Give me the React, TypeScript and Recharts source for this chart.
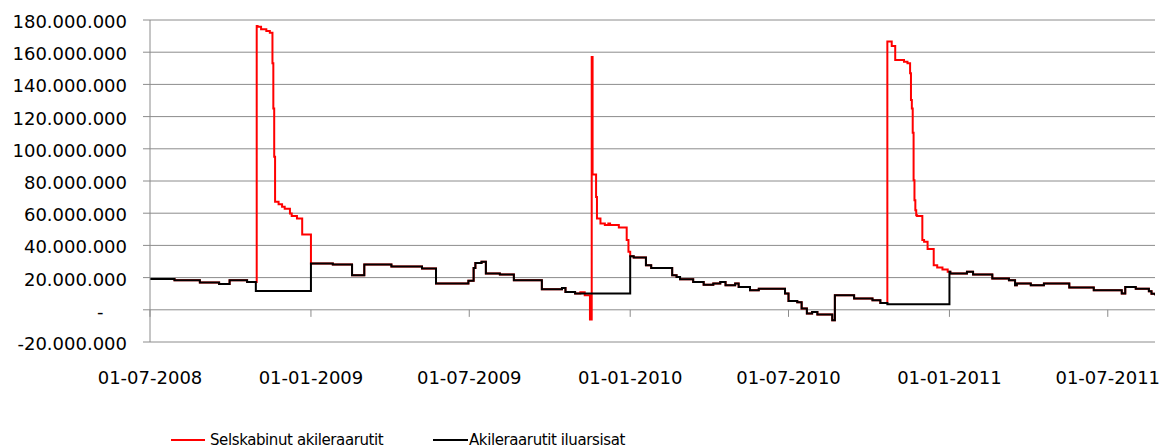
import React from 'react';
import { LineChart, Line, XAxis, YAxis, CartesianGrid, ReferenceLine, Legend } from 'recharts';

// ---------- data ----------
const seriesNames = ['Selskabinut akileraarutit', 'Akileraarutit iluarsisat'];
const seriesColors = ['#ff0000', '#000000'];

const xStart = '2008-07-01';
const xEnd = '2011-08-24';
const xTickDates = ['2008-07-01', '2009-01-01', '2009-07-01', '2010-01-01', '2010-07-01', '2011-01-01', '2011-07-01'];
const yTicks = [-20, 0, 20, 40, 60, 80, 100, 120, 140, 160, 180]; // millions

// "Akileraarutit iluarsisat" (values in millions, each value holds from its date)
const blackSteps: [string, number][] = [
  ['2008-07-01', 19.2], ['2008-07-29', 18.4], ['2008-08-27', 17.0], ['2008-09-18', 16.1],
  ['2008-09-30', 18.4], ['2008-10-20', 17.3], ['2008-10-30', 11.7], ['2009-01-01', 28.8],
  ['2009-01-26', 28.1], ['2009-02-17', 21.5], ['2009-03-03', 28.1], ['2009-04-03', 26.9],
  ['2009-05-08', 25.7], ['2009-05-24', 16.3], ['2009-06-30', 18.0], ['2009-07-06', 26.0],
  ['2009-07-08', 29.1], ['2009-07-15', 29.8], ['2009-07-20', 22.5], ['2009-08-05', 21.9],
  ['2009-08-21', 18.4], ['2009-09-22', 12.8], ['2009-10-15', 13.5], ['2009-10-19', 11.1],
  ['2009-10-30', 10.1], ['2010-01-01', 33.3], ['2010-01-05', 32.5], ['2010-01-19', 27.7],
  ['2010-01-25', 26.0], ['2010-02-18', 21.5], ['2010-02-23', 20.4], ['2010-02-27', 19.0],
  ['2010-03-14', 17.3], ['2010-03-26', 15.6], ['2010-04-06', 16.3], ['2010-04-14', 17.2],
  ['2010-04-20', 15.3], ['2010-05-01', 16.3], ['2010-05-05', 14.2], ['2010-05-18', 12.2],
  ['2010-05-28', 13.0], ['2010-06-27', 10.1], ['2010-07-01', 5.5], ['2010-07-11', 4.7],
  ['2010-07-16', 0.8], ['2010-07-22', -2.3], ['2010-07-28', -1.3], ['2010-08-03', -2.9],
  ['2010-08-20', -6.5], ['2010-08-23', 9.1], ['2010-09-14', 7.0], ['2010-10-05', 6.0],
  ['2010-10-14', 4.3], ['2010-10-22', 3.5], ['2011-01-01', 23.6], ['2011-01-02', 22.5],
  ['2011-01-21', 23.6], ['2011-01-28', 22.0], ['2011-02-19', 19.4], ['2011-03-10', 18.4],
  ['2011-03-17', 15.3], ['2011-03-19', 16.3], ['2011-04-04', 15.3], ['2011-04-19', 16.3],
  ['2011-05-18', 13.9], ['2011-06-15', 12.2], ['2011-07-17', 10.1], ['2011-07-21', 14.2],
  ['2011-08-02', 13.0], ['2011-08-17', 11.5], ['2011-08-20', 10.0], ['2011-08-24', 9.1],
];

// "Selskabinut akileraarutit": where it differs from the series above
const redPeak2008: [string, number][] = [
  ['2008-10-30', 17.3], ['2008-10-31', 176.3], ['2008-11-01', 175.8], ['2008-11-05', 174.2],
  ['2008-11-11', 173.2], ['2008-11-15', 172.1], ['2008-11-18', 153.1], ['2008-11-19', 125.0],
  ['2008-11-20', 95.0], ['2008-11-21', 67.1], ['2008-11-25', 65.6], ['2008-11-29', 64.0],
  ['2008-12-02', 62.7], ['2008-12-08', 59.8], ['2008-12-10', 58.2], ['2008-12-16', 56.7],
  ['2008-12-22', 46.8],
];
const redPeak2009: [string, number][] = [
  ['2009-11-05', 10.9], ['2009-11-10', 9.1], ['2009-11-16', -6.0], ['2009-11-18', 157.0],
  ['2009-11-19', 84.1], ['2009-11-23', 70.0], ['2009-11-24', 56.7], ['2009-11-28', 53.6],
  ['2009-12-03', 52.6], ['2009-12-07', 53.6], ['2009-12-09', 52.6], ['2009-12-19', 51.1],
  ['2009-12-28', 43.3], ['2009-12-30', 36.0],
];
const redPeak2010: [string, number][] = [
  ['2010-10-22', 166.7], ['2010-10-27', 163.8], ['2010-10-31', 155.1], ['2010-11-10', 154.1],
  ['2010-11-14', 153.1], ['2010-11-17', 146.9], ['2010-11-18', 130.3], ['2010-11-19', 125.0],
  ['2010-11-20', 110.0], ['2010-11-21', 80.5], ['2010-11-22', 68.0], ['2010-11-23', 61.9],
  ['2010-11-24', 58.8], ['2010-11-25', 58.2], ['2010-12-01', 43.3], ['2010-12-03', 42.2],
  ['2010-12-07', 37.7], ['2010-12-14', 27.7], ['2010-12-18', 26.3], ['2010-12-24', 25.0],
  ['2010-12-30', 23.6],
];

// ---------- building ----------
const ts = (d: string) => Date.parse(d + 'T00:00:00Z');
const toPoints = (arr: [string, number][]) => arr.map(([d, v]) => ({ t: ts(d), v }));

const blackData = toPoints(blackSteps);
const peaks = [redPeak2008, redPeak2009, redPeak2010];
const peakRanges = peaks.map((p) => {
  const start = ts(p[0][0]);
  const last = ts(p[p.length - 1][0]);
  const next = blackData.find((b) => b.t > last);
  return [start, next ? next.t : last + 1];
});
const inPeak = (t: number) => peakRanges.some(([a, b]) => t >= a && t < b);
const redData = [...blackData.filter((p) => !inPeak(p.t)), ...peaks.flatMap(toPoints)].sort((a, b) => a.t - b.t);

const T0 = ts(xStart);
const T1 = ts(xEnd);
const xTicks = xTickDates.map(ts);

const pad = (n: number) => (n < 10 ? '0' + n : '' + n);
const fmtDate = (t: number) => {
  const d = new Date(t);
  return `${pad(d.getUTCDate())}-${pad(d.getUTCMonth() + 1)}-${d.getUTCFullYear()}`;
};
const fmtValue = (v: number) => {
  if (v === 0) return '-';
  const s = Math.round(Math.abs(v * 1e6)).toString().replace(/\B(?=(\d{3})+(?!\d))/g, '.');
  return (v < 0 ? '-' : '') + s;
};

const FONT = 'DejaVu Sans';
const GRID = '#8c8c8c';

const YTick = (props: any) => {
  const { x, y, payload } = props;
  const v = payload.value;
  return (
    <text x={v === 0 ? x - 23.5 : x} y={y} dy={8} textAnchor="end" fontFamily={FONT} fontSize={18} fill="#000">
      {fmtValue(v)}
    </text>
  );
};

const XTick = (props: any) => {
  const { x, y, payload } = props;
  return (
    <text x={x} y={y} dy={12.5} textAnchor="middle" fontFamily={FONT} fontSize={18} fill="#000">
      {fmtDate(payload.value)}
    </text>
  );
};

const LegendContent = () => {
  const items = [
    { x1: 171, x2: 205, tx: 210 },
    { x1: 433, x2: 468, tx: 469 },
  ];
  return (
    <svg width={1165} height={24} style={{ display: 'block', overflow: 'visible' }}>
      {items.map((it, i) => (
        <g key={i}>
          <line x1={it.x1} x2={it.x2} y1={18} y2={18} stroke={seriesColors[i]} strokeWidth={2} />
          <text x={it.tx} y={23} fontFamily={FONT} fontSize={15} letterSpacing={-0.4} fill="#000">
            {seriesNames[i]}
          </text>
        </g>
      ))}
    </svg>
  );
};

export default function App() {
  return (
    <div style={{ position: 'absolute', left: 0, top: 0, width: 1165, height: 448, background: '#fff', fontFamily: FONT }}>
      <LineChart width={1165} height={448} margin={{ top: 20, right: 10, bottom: 66, left: 0 }}>
        <CartesianGrid vertical={false} stroke={GRID} />
        <XAxis
          type="number"
          dataKey="t"
          domain={[T0, T1]}
          ticks={xTicks}
          interval={0}
          allowDataOverflow
          axisLine={false}
          tickLine={false}
          height={40}
          tickMargin={23}
          tick={(p: any) => <XTick {...p} />}
        />
        <YAxis
          type="number"
          domain={[-20, 180]}
          ticks={yTicks}
          interval={0}
          width={150}
          tickSize={7}
          tickMargin={16}
          axisLine={{ stroke: GRID }}
          tickLine={{ stroke: GRID }}
          tick={(p: any) => <YTick {...p} />}
        />
        {xTicks.map((t) => (
          <ReferenceLine key={t} segment={[{ x: t, y: 0 }, { x: t, y: -4.4 }]} stroke={GRID} />
        ))}
        <Line
          data={redData}
          dataKey="v"
          name={seriesNames[0]}
          type="stepAfter"
          stroke={seriesColors[0]}
          strokeWidth={2}
          dot={false}
          activeDot={false}
          isAnimationActive={false}
        />
        <Line
          data={blackData}
          dataKey="v"
          name={seriesNames[1]}
          type="stepAfter"
          stroke={seriesColors[1]}
          strokeWidth={2}
          dot={false}
          activeDot={false}
          isAnimationActive={false}
        />
        <Legend
          layout="horizontal"
          verticalAlign="middle"
          align="center"
          wrapperStyle={{ top: 422, left: 0, width: 1165, height: 24 }}
          content={() => <LegendContent />}
        />
      </LineChart>
    </div>
  );
}
